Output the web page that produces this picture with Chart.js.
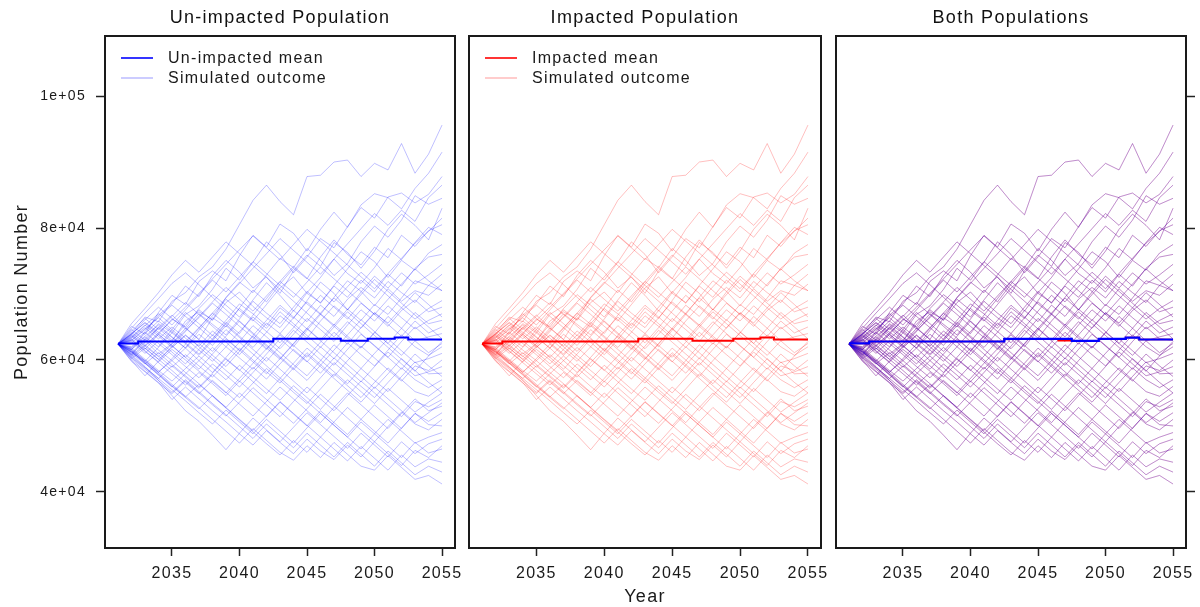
<!DOCTYPE html>
<html><head><meta charset="utf-8">
<script src="https://cdn.jsdelivr.net/npm/chart.js@4.4.0/dist/chart.umd.min.js"></script>
<style>
html,body{margin:0;padding:0;background:#fff;overflow:hidden;}
#wrap{position:relative;width:1200px;height:607px;background:#fff;}
canvas{position:absolute;top:0;}
</style></head><body>
<div id="wrap">
<canvas id="c1" width="462" height="607" style="left:0px"></canvas>
<canvas id="c2" width="366" height="607" style="left:462px"></canvas>
<canvas id="c3" width="372" height="607" style="left:828px"></canvas>
</div>
<script>
// ---------- data (population in thousands) ----------
const years = [2031,2032,2033,2034,2035,2036,2037,2038,2039,2040,2041,2042,2043,2044,2045,2046,2047,2048,2049,2050,2051,2052,2053,2054,2055];
const panelTitles = ['Un-impacted Population','Impacted Population','Both Populations'];
const xTickValues = [2035,2040,2045,2050,2055];
const xTickLabels = ['2035','2040','2045','2050','2055'];
const yTickValues = [40000,60000,80000,100000];
const yTickLabels = ['4e+04','6e+04','8e+04','1e+05'];
const legendLabelsUnimpacted = ['Un-impacted mean','Simulated outcome'];
const legendLabelsImpacted = ['Impacted mean','Simulated outcome'];

const unimpactedMeanK = [62.5,62.5,62.8,62.8,62.8,62.8,62.8,62.8,62.8,62.8,62.8,62.8,63.2,63.2,63.2,63.2,63.2,62.9,62.9,63.2,63.2,63.4,63.1,63.1,63.1];
const impactedMeanK   = [62.5,62.5,62.8,62.8,62.8,62.8,62.8,62.8,62.8,62.8,62.8,62.8,63.2,63.2,63.2,63.2,62.9,62.9,62.9,63.2,63.2,63.4,63.1,63.1,63.1];

const sim01 = [62.4,64.0,66.5,65.8,68.9,70.2,72.6,74.1,76.8,80.5,84.2,86.5,84.0,82.0,87.8,88.0,90.0,90.3,87.8,89.8,88.8,92.8,88.3,91.2,95.6];
const sim02 = [62.4,65.1,63.9,67.2,69.8,68.4,71.9,73.5,72.0,75.8,78.9,77.1,80.6,79.2,76.5,79.8,82.4,80.1,83.5,85.2,84.6,82.9,86.0,88.3,91.5];
const sim03 = [62.4,60.8,63.2,65.5,64.1,66.9,68.2,70.7,73.9,72.1,74.8,77.9,76.0,73.2,75.6,78.4,77.0,80.2,83.1,81.5,84.7,85.3,83.8,85.1,87.8];
const sim04 = [62.4,63.9,65.7,64.2,62.8,65.9,67.3,66.1,69.5,71.8,70.2,72.9,75.4,74.0,76.9,75.1,72.8,74.6,77.9,80.3,78.6,81.2,84.9,83.6,84.5];
const sim05 = [62.4,61.5,64.3,66.8,68.5,71.2,69.6,72.8,75.1,73.3,70.9,72.6,70.1,73.5,75.9,74.2,77.8,76.3,73.9,76.5,79.8,82.1,80.4,78.2,83.0];
const sim06 = [62.4,64.6,63.0,60.9,62.5,64.8,63.1,66.4,65.0,67.9,70.6,68.8,71.5,73.9,72.3,75.6,78.2,76.0,74.4,77.1,75.5,78.9,77.2,79.6,80.5];
const sim07 = [62.4,63.2,61.6,63.9,66.2,65.0,67.8,69.9,68.3,66.5,69.1,71.7,69.8,67.4,70.2,72.5,75.3,73.1,71.6,74.0,76.9,75.2,77.8,80.1,79.0];
const sim08 = [62.4,60.9,62.7,65.0,63.4,61.8,64.5,66.7,69.2,67.5,65.9,68.4,70.9,72.6,70.1,68.7,71.3,73.8,76.4,74.9,72.5,75.1,73.6,76.2,77.5];
const sim09 = [62.4,63.8,66.1,68.0,66.3,64.7,67.0,65.4,63.8,66.2,68.9,67.1,65.5,68.0,70.4,68.6,71.2,69.5,72.1,70.3,73.0,71.2,73.9,75.6,76.0];
const sim10 = [62.4,61.7,63.5,62.0,64.6,67.2,65.5,63.7,66.0,68.5,67.0,65.2,67.9,66.3,69.0,71.8,70.1,67.6,70.3,72.7,70.9,73.2,71.5,72.9,74.5];
const sim11 = [62.4,64.2,62.5,64.8,63.0,65.4,67.6,66.0,68.7,70.3,68.1,66.4,64.9,67.5,65.8,68.3,66.6,69.2,71.0,69.4,71.9,70.2,68.7,71.3,73.0];
const sim12 = [62.4,62.0,64.0,65.9,64.3,62.6,60.9,63.2,65.7,64.0,66.8,69.3,71.9,70.2,68.5,66.9,69.5,72.0,70.4,68.2,70.8,68.9,70.5,69.8,71.5];
const sim13 = [62.4,63.5,65.3,63.6,61.9,63.7,62.1,64.4,62.7,60.8,63.1,65.6,64.0,66.4,68.8,67.0,65.3,67.7,66.0,68.4,66.9,69.4,72.0,71.3,70.5];
const sim14 = [62.4,61.2,59.8,61.9,64.1,62.5,64.8,67.1,65.4,63.6,61.9,64.2,66.7,65.1,63.3,65.9,68.2,66.5,64.8,67.1,65.6,67.9,66.2,67.8,69.0];
const sim15 = [62.4,63.0,64.7,66.5,68.3,66.6,64.9,63.1,65.5,67.8,66.1,64.3,62.6,64.9,67.4,69.8,68.0,66.2,68.6,66.9,65.1,67.5,69.1,67.3,68.0];
const sim16 = [62.4,61.6,63.2,61.5,59.9,61.8,63.9,62.2,64.6,62.8,65.2,63.5,61.7,63.9,66.3,64.6,62.8,65.3,67.6,65.9,68.2,66.4,64.7,66.0,67.0];
const sim17 = [62.4,63.7,62.1,60.5,62.4,64.5,66.4,68.6,66.9,65.1,63.4,61.6,63.8,62.0,64.5,66.9,65.1,63.3,61.8,64.2,62.5,64.8,67.2,65.5,66.0];
const sim18 = [62.4,62.8,61.0,62.9,61.2,59.4,61.6,63.8,62.0,64.3,66.5,64.8,67.3,65.5,63.7,61.9,64.2,62.4,64.9,67.2,65.4,63.6,65.9,64.1,65.0];
const sim19 = [62.4,64.0,65.6,63.9,62.1,60.4,62.5,60.7,59.0,61.3,63.6,61.8,60.1,62.4,64.8,63.0,65.4,63.6,61.9,64.1,66.6,64.8,62.9,63.5,64.0];
const sim20 = [62.4,61.4,59.7,58.1,60.2,62.4,60.7,62.9,65.2,63.4,61.6,59.8,62.1,64.5,62.7,60.9,59.2,61.6,63.9,62.1,60.4,62.8,65.0,63.2,63.0];
const sim21 = [62.4,63.3,64.9,63.2,65.0,63.3,61.5,59.8,62.0,60.3,58.6,60.9,63.2,61.4,59.7,62.0,60.2,62.6,60.8,59.1,61.5,63.8,62.0,60.7,62.0];
const sim22 = [62.4,61.9,63.6,65.3,63.5,61.8,59.9,61.9,60.1,58.4,60.6,62.9,61.1,59.3,57.6,59.9,62.3,60.5,58.7,61.0,63.2,61.4,59.6,60.2,61.0];
const sim23 = [62.4,60.7,62.3,60.6,58.9,60.8,59.1,57.4,59.6,61.8,60.0,58.2,56.5,58.8,61.1,59.3,57.5,59.9,62.1,60.3,58.5,56.8,59.1,58.4,60.0];
const sim24 = [62.4,63.6,61.8,60.1,61.9,63.8,62.0,60.2,58.4,56.7,58.9,57.1,59.4,61.6,59.8,58.0,60.3,58.5,56.7,59.0,61.2,59.4,57.6,58.2,59.0];
const sim25 = [62.4,61.0,59.4,61.1,59.3,57.6,55.9,58.0,60.2,58.5,56.7,54.9,57.2,59.5,61.8,60.0,58.2,56.4,58.7,56.9,55.2,57.5,59.7,57.9,58.0];
const sim26 = [62.4,62.6,64.2,62.5,60.8,59.0,57.3,59.4,57.7,55.9,58.1,60.4,58.6,56.8,55.0,57.3,59.6,57.8,56.0,54.3,56.6,58.8,57.0,55.8,57.0];
const sim27 = [62.4,60.4,58.8,57.2,59.1,57.4,55.7,57.8,56.0,54.3,56.5,58.7,56.9,55.1,53.4,55.6,57.9,56.1,54.3,56.6,58.8,57.0,55.2,54.5,56.0];
const sim28 = [62.4,61.8,60.1,58.4,56.8,58.7,60.6,58.8,57.0,59.2,57.4,55.6,53.9,56.1,54.3,52.5,54.8,57.0,55.2,53.4,55.7,53.9,52.1,53.6,55.0];
const sim29 = [62.4,63.1,61.3,59.6,57.9,56.2,58.1,56.4,54.6,56.8,55.0,53.2,51.4,53.7,55.9,54.1,52.3,54.6,56.8,55.0,53.2,51.4,53.7,52.9,54.0];
const sim30 = [62.4,60.2,61.8,60.1,58.4,56.6,54.9,56.9,55.1,53.3,51.5,53.7,55.9,54.1,52.3,50.5,52.8,55.0,53.2,51.4,49.6,51.9,54.1,52.3,53.0];
const sim31 = [62.4,61.5,59.9,58.2,59.9,58.1,56.4,54.6,52.8,55.0,53.2,51.4,53.6,51.8,50.0,52.3,50.5,48.7,51.0,53.2,51.4,49.6,51.9,50.7,52.0];
const sim32 = [62.4,59.8,58.2,56.5,54.9,56.8,55.0,53.2,51.5,53.6,55.8,54.0,52.2,50.4,52.6,54.8,53.0,51.2,49.4,47.6,49.9,52.1,50.3,49.4,51.0];
const sim33 = [62.4,61.2,59.5,57.8,56.0,54.3,52.6,54.6,52.8,51.0,49.3,51.5,53.7,51.9,50.1,48.3,50.6,52.8,51.0,49.2,47.4,49.7,51.9,50.2,50.0];
const sim34 = [62.4,60.6,58.9,57.2,55.5,53.8,52.0,50.3,52.4,50.6,48.8,51.0,49.2,47.4,49.7,51.9,50.1,48.3,46.5,48.8,51.0,49.2,47.4,48.3,49.0];
const sim35 = [62.4,60.8,59.0,56.9,54.6,52.3,50.7,48.6,46.4,48.9,51.2,49.4,47.6,49.8,52.0,50.2,48.4,46.6,48.9,47.1,45.3,47.6,45.8,47.3,48.0];
const sim36 = [62.4,60.1,58.3,56.6,54.0,55.9,54.1,52.3,50.6,48.8,47.1,49.3,47.5,45.8,48.0,46.2,44.9,47.1,45.3,47.6,45.8,44.0,46.3,45.2,47.0];
const sim37 = [62.4,61.3,59.6,57.9,56.1,54.4,56.3,54.5,52.7,50.9,49.1,47.3,45.6,47.8,46.0,48.3,46.5,44.7,46.9,45.1,43.3,45.6,43.8,45.0,44.5];
const sim38 = [62.4,60.3,58.6,56.9,55.1,57.0,55.2,53.4,51.7,49.9,48.1,50.3,48.5,46.7,48.9,47.1,45.3,47.5,45.7,43.9,46.2,44.4,42.6,43.9,43.0];
const sim39 = [62.4,61.6,59.9,58.1,56.3,54.5,52.8,51.0,49.2,47.4,49.6,47.8,46.0,44.8,47.0,45.2,47.5,45.7,43.9,43.3,45.5,43.7,41.9,42.5,41.2];
const sim40 = [62.4,64.8,67.1,69.3,71.6,73.2,71.4,69.5,67.6,65.8,63.9,62.1,60.3,58.5,60.8,59.0,57.2,55.4,53.6,55.9,54.1,52.3,50.5,52.0,53.5];
const sim41 = [62.4,59.9,57.6,59.8,62.1,64.3,66.6,68.8,71.0,69.2,67.4,69.7,71.9,74.2,72.4,70.6,68.8,71.1,73.3,71.5,69.7,67.9,70.2,68.4,66.5];
const sim42 = [62.4,65.5,67.8,70.2,72.9,75.1,73.3,75.6,77.9,76.1,74.3,72.5,70.7,68.9,67.1,65.3,63.5,65.8,64.0,62.2,60.4,58.6,60.9,59.1,57.5];
const sim43 = [62.4,63.4,65.2,67.0,65.3,67.6,69.9,72.1,70.3,72.6,74.9,73.1,71.3,69.5,71.8,74.1,72.3,70.5,68.7,66.9,69.2,71.5,73.8,72.0,70.5];
const sim44 = [62.4,61.1,63.0,64.9,66.8,64.9,63.1,61.3,63.6,65.9,64.1,62.3,60.5,58.7,56.9,59.2,61.5,63.8,66.1,64.3,62.5,60.7,62.9,61.1,62.5];
const sim45 = [62.4,60.5,62.1,63.9,62.2,60.4,58.6,60.9,63.2,61.4,63.7,66.0,68.3,66.5,64.7,62.9,61.1,59.3,57.5,55.7,57.9,60.2,58.4,56.6,55.0];
const sim46 = [62.4,63.9,62.2,64.1,66.0,68.0,70.1,72.3,74.5,76.7,78.8,77.0,75.2,77.5,79.8,78.0,76.2,74.4,72.6,70.8,73.1,75.4,77.7,79.5,81.5];
const sim47 = [62.4,61.3,59.5,57.7,55.9,57.9,59.9,58.1,60.4,62.7,60.9,59.1,57.3,55.5,53.7,51.9,50.1,48.3,50.6,48.8,47.0,45.2,47.5,45.9,46.5];
const sim48 = [62.4,62.9,64.6,66.4,64.6,62.8,64.9,67.1,69.4,71.6,73.9,76.1,78.4,76.6,74.8,73.0,75.3,77.6,79.9,82.2,80.4,82.7,81.0,84.6,86.5];
const sim49 = [62.4,63.0,61.4,59.7,61.6,60.0,58.3,56.7,55.0,57.2,59.5,61.7,64.0,62.2,60.4,62.7,65.0,67.3,65.5,63.7,61.9,60.1,58.3,60.6,62.8];
const sim50 = [62.4,64.4,66.3,64.6,66.6,68.7,66.9,65.1,63.3,61.5,59.7,57.9,60.2,62.5,64.8,67.1,69.4,67.6,69.9,72.2,70.4,68.6,66.8,65.0,63.2];
const simRunsK = [sim01,sim02,sim03,sim04,sim05,sim06,sim07,sim08,sim09,sim10,sim11,sim12,sim13,sim14,sim15,sim16,sim17,sim18,sim19,sim20,
  sim21,sim22,sim23,sim24,sim25,sim26,sim27,sim28,sim29,sim30,sim31,sim32,sim33,sim34,sim35,sim36,sim37,sim38,sim39,sim40,
  sim41,sim42,sim43,sim44,sim45,sim46,sim47,sim48,sim49,sim50];

// ---------- styling ----------
const FONT = "'Liberation Sans', Arial, Helvetica, sans-serif";
Chart.defaults.font.family = FONT;
Chart.defaults.color = '#1a1a1a';
Chart.defaults.animation = false;

const BLUE = '#0000ff', RED = '#ff0000';
const BLUE_SIM = 'rgba(0,0,255,0.25)', RED_SIM = 'rgba(255,0,0,0.25)';
const X_MIN = 2030.04, X_MAX = 2055.96, Y_MIN = 31500, Y_MAX = 109100;

const toPoints = arr => arr.map((v, i) => ({x: years[i], y: v * 1000}));

function meanDataset(label, vals, color, order, width) {
  return {label, data: toPoints(vals), borderColor: color, borderWidth: width || 2, pointRadius: 0, stepped: 'middle', order, fill: false};
}
function simDatasets(color, order) {
  return simRunsK.map(run => ({label: 'Simulated outcome', data: toPoints(run), borderColor: color, borderWidth: 1, pointRadius: 0, tension: 0, order, fill: false}));
}

const spacingPlugin = {id: 'spacing', beforeDraw(chart) { chart.ctx.letterSpacing = '1.3px'; }};
const boxPlugin = {
  id: 'box',
  afterDraw(chart) {
    const {ctx, chartArea: a} = chart;
    ctx.save();
    ctx.strokeStyle = '#1a1a1a'; ctx.lineWidth = 2;
    ctx.strokeRect(a.left, a.top, a.right - a.left, a.bottom - a.top);
    ctx.restore();
  }
};
const legendPlugin = {
  id: 'panelLegend',
  afterDatasetsDraw(chart, args, opts) {
    if (!opts || !opts.labels) return;
    const {ctx, chartArea: a} = chart;
    ctx.save();
    ctx.font = '16px ' + FONT;
    ctx.textBaseline = 'middle';
    ctx.textAlign = 'left';
    opts.labels.forEach((lab, i) => {
      const y = a.top + 22 + i * 20;
      ctx.strokeStyle = opts.colors[i]; ctx.lineWidth = 1.6;
      ctx.beginPath(); ctx.moveTo(a.left + 16, y); ctx.lineTo(a.left + 48, y); ctx.stroke();
      ctx.fillStyle = '#1a1a1a';
      ctx.fillText(lab, a.left + 63, y + 1);
    });
    ctx.restore();
  }
};

function xScale(withTitle) {
  return {
    type: 'linear', min: X_MIN, max: X_MAX,
    afterBuildTicks: s => { s.ticks = xTickValues.map(v => ({value: v})); },
    afterFit: s => { s.height = 59; s.paddingLeft = 0; s.paddingRight = 0; },
    grid: {drawOnChartArea: false, drawTicks: true, tickLength: 8, tickColor: '#222', tickWidth: 1.5},
    border: {display: false},
    ticks: {autoSkip: false, maxRotation: 0, padding: 8, font: {size: 16}, color: '#1a1a1a', callback: (v, i) => xTickLabels[i]},
    title: {display: withTitle, text: 'Year', font: {size: 18}, color: '#1a1a1a', padding: {top: 0, bottom: -1}}
  };
}
function yScale(kind) {
  const base = {
    type: 'linear', min: Y_MIN, max: Y_MAX,
    afterBuildTicks: s => { s.ticks = yTickValues.map(v => ({value: v})); },
    border: {display: false},
    grid: {drawOnChartArea: false, drawTicks: true, tickLength: 9, tickColor: '#222', tickWidth: 1.5}
  };
  if (kind === 'left') {
    return Object.assign(base, {
      position: 'left',
      afterFit: s => { s.width = 105; s.paddingTop = 0; s.paddingBottom = 0; },
      ticks: {padding: 10, font: {size: 14}, color: '#1a1a1a', callback: (v, i) => yTickLabels[i]},
      title: {display: true, text: 'Population Number', font: {size: 18}, color: '#1a1a1a', padding: {top: 11.2, bottom: 0}}
    });
  }
  if (kind === 'right') {
    return Object.assign(base, {
      position: 'right',
      afterFit: s => { s.width = 14; s.paddingTop = 0; s.paddingBottom = 0; },
      ticks: {display: false}
    });
  }
  return Object.assign(base, {display: false});
}

function makeChart(id, title, datasets, scales, padding, legend) {
  return new Chart(document.getElementById(id), {
    type: 'line',
    data: {datasets},
    options: {
      responsive: false, animation: false, normalized: true,
      layout: {padding},
      scales,
      plugins: {
        legend: {display: false},
        tooltip: {enabled: false},
        title: {display: true, text: title, fullSize: false, color: '#111', font: {size: 18, weight: 'normal'}, padding: {top: 7.2, bottom: 7.2}},
        panelLegend: legend
      }
    },
    plugins: [spacingPlugin, legendPlugin, boxPlugin]
  });
}

makeChart('c1', panelTitles[0],
  [meanDataset('Un-impacted mean', unimpactedMeanK, BLUE, 0), ...simDatasets(BLUE_SIM, 1)],
  {x: xScale(false), y: yScale('left')},
  {left: 0, right: 7, top: 0, bottom: 0},
  {labels: legendLabelsUnimpacted, colors: [BLUE, 'rgba(0,0,255,0.25)']});

makeChart('c2', panelTitles[1],
  [meanDataset('Impacted mean', impactedMeanK, RED, 0), ...simDatasets(RED_SIM, 1)],
  {x: xScale(true), y: yScale('none')},
  {left: 7, right: 7, top: 0, bottom: 0},
  {labels: legendLabelsImpacted, colors: [RED, 'rgba(255,0,0,0.25)']});

makeChart('c3', panelTitles[2],
  [meanDataset('Un-impacted mean', unimpactedMeanK, BLUE, 0, 2.2), meanDataset('Impacted mean', impactedMeanK, RED, 1, 1.6),
   ...simDatasets(BLUE_SIM, 2), ...simDatasets(RED_SIM, 3)],
  {x: xScale(false), y: yScale('right')},
  {left: 8, right: 0, top: 0, bottom: 0},
  {});
</script>
</body></html>
